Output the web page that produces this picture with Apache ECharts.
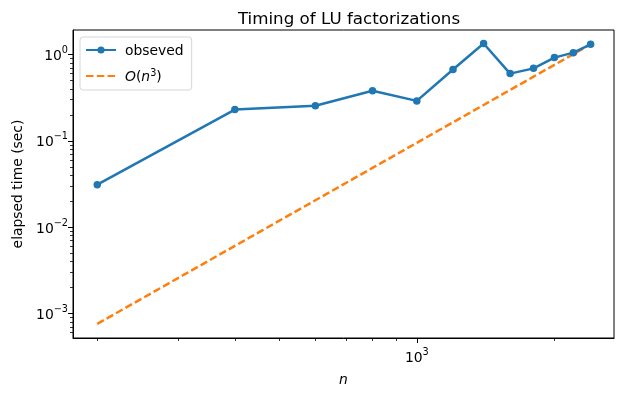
<!DOCTYPE html>
<html>
<head>
<meta charset="utf-8">
<script src="https://cdn.jsdelivr.net/npm/echarts@6/dist/echarts.min.js"></script>
<style>
  html, body { margin: 0; padding: 0; background: #fff; }
  #chart { width: 625px; height: 396px; }
</style>
</head>
<body>
<div id="chart"></div>
<script>
// matrix sizes and measured times
const sizes = [200, 400, 600, 800, 1000, 1200, 1400, 1600, 1800, 2000, 2200, 2400];
const observed = [0.031, 0.23, 0.255, 0.38, 0.29, 0.67, 1.34, 0.60, 0.69, 0.92, 1.05, 1.31];
// reference O(n^3) curve through the last measurement
const cubic = [7.58e-4, 6.065e-3, 0.02047, 0.04852, 0.09476, 0.1637, 0.2600, 0.3881, 0.5526, 0.7581, 1.009, 1.31];

// tick positions
const xMajorTicks = [1000];
const xMinorTicks = [200, 300, 400, 500, 600, 700, 800, 900, 2000];
const yMajorTicks = [0.001, 0.01, 0.1, 1];
const yMinorTicks = [6e-4, 7e-4, 8e-4, 9e-4,
  0.002, 0.003, 0.004, 0.005, 0.006, 0.007, 0.008, 0.009,
  0.02, 0.03, 0.04, 0.05, 0.06, 0.07, 0.08, 0.09,
  0.2, 0.3, 0.4, 0.5, 0.6, 0.7, 0.8, 0.9];

const FONT = 'DejaVu Sans';
const BLUE = '#1f77b4';
const ORANGE = '#ff7f0e';
const FS = 13.9;

const chart = echarts.init(document.getElementById('chart'), null, { renderer: 'canvas' });

// 10^k labels with superscript
const powLabel = v => {
  const e = Math.round(Math.log10(v));
  return '{b|10}{s|' + String(e).replace('-', '\u2212') + '}';
};
const powRich = {
  b: { fontFamily: FONT, fontSize: FS, color: '#000', lineHeight: 18, verticalAlign: 'bottom' },
  s: { fontFamily: FONT, fontSize: 9.7, color: '#000', lineHeight: 13, verticalAlign: 'top' }
};

const X_MIN = 177, X_MAX = 2700;
const Y_MIN = 5.2e-4, Y_MAX = 1.92;

const option = {
  animation: false,
  title: {
    text: 'Timing of LU factorizations',
    left: 344, top: 6, textAlign: 'center',
    textStyle: { fontFamily: FONT, fontSize: 16.7, fontWeight: 'normal', color: '#000' }
  },
  grid: {
    left: 73, right: 11, top: 30, bottom: 58,
    show: true, borderColor: '#000', borderWidth: 1
  },
  legend: {
    left: 80, top: 37, orient: 'vertical',
    itemWidth: 30, itemHeight: 9, itemGap: 10,
    padding: [7, 8, 6, 5],
    borderColor: '#d6d6d6', borderWidth: 1, borderRadius: 3,
    backgroundColor: 'rgba(255,255,255,0.8)',
    data: [
      { name: 'obseved' },
      { name: 'cubic', itemStyle: { opacity: 0 } }
    ],
    formatter: name => name === 'cubic' ? '{i|O}{r|(}{i|n}{s|3}{r|)}' : '{r|' + name + '}',
    textStyle: {
      fontFamily: FONT, fontSize: FS, color: '#000', padding: [0, 0, 0, 4],
      rich: {
        r: { fontFamily: FONT, fontSize: FS, color: '#000', lineHeight: 16, verticalAlign: 'bottom' },
        i: { fontFamily: FONT, fontSize: FS, fontStyle: 'italic', color: '#000', lineHeight: 16, verticalAlign: 'bottom' },
        s: { fontFamily: FONT, fontSize: 9.7, color: '#000', lineHeight: 11, verticalAlign: 'top' }
      }
    }
  },
  xAxis: [
    {
      type: 'log', logBase: 10, min: X_MIN, max: X_MAX,
      name: 'n', nameLocation: 'middle', nameGap: 35,
      nameTextStyle: { fontFamily: FONT, fontSize: FS, fontStyle: 'italic', color: '#000' },
      axisLine: { show: true, lineStyle: { color: '#000', width: 1 } },
      axisTick: { show: true, length: 5, customValues: xMajorTicks, lineStyle: { color: '#000', width: 1 } },
      axisLabel: { show: true, customValues: xMajorTicks, margin: 9, formatter: powLabel, rich: powRich },
      splitLine: { show: false }
    },
    {
      type: 'log', logBase: 10, min: X_MIN, max: X_MAX, position: 'bottom',
      axisLine: { show: false },
      axisTick: { show: true, length: 3, customValues: xMinorTicks, lineStyle: { color: '#000', width: 0.8 } },
      axisLabel: { show: false },
      splitLine: { show: false }
    }
  ],
  yAxis: [
    {
      type: 'log', logBase: 10, min: Y_MIN, max: Y_MAX,
      name: 'elapsed time (sec)', nameLocation: 'middle', nameGap: 47, nameRotate: 90,
      nameTextStyle: { fontFamily: FONT, fontSize: FS, color: '#000' },
      axisLine: { show: true, lineStyle: { color: '#000', width: 1 } },
      axisTick: { show: true, length: 5, customValues: yMajorTicks, lineStyle: { color: '#000', width: 1 } },
      axisLabel: { show: true, customValues: yMajorTicks, margin: 5, formatter: powLabel, rich: powRich },
      splitLine: { show: false }
    },
    {
      type: 'log', logBase: 10, min: Y_MIN, max: Y_MAX, position: 'left',
      axisLine: { show: false },
      axisTick: { show: true, length: 3, customValues: yMinorTicks, lineStyle: { color: '#000', width: 0.8 } },
      axisLabel: { show: false },
      splitLine: { show: false }
    }
  ],
  series: [
    {
      name: 'obseved', type: 'line',
      data: sizes.map((n, i) => [n, observed[i]]),
      symbol: 'circle', symbolSize: 7.5, showSymbol: true,
      itemStyle: { color: BLUE },
      lineStyle: { color: BLUE, width: 2.5 },
      z: 3
    },
    {
      name: 'cubic', type: 'line',
      data: sizes.map((n, i) => [n, cubic[i]]),
      showSymbol: false, symbol: 'none',
      itemStyle: { color: ORANGE },
      lineStyle: { color: ORANGE, width: 2.5, type: [7.5, 3.3] },
      z: 2
    }
  ]
};

chart.setOption(option);
</script>
</body>
</html>
